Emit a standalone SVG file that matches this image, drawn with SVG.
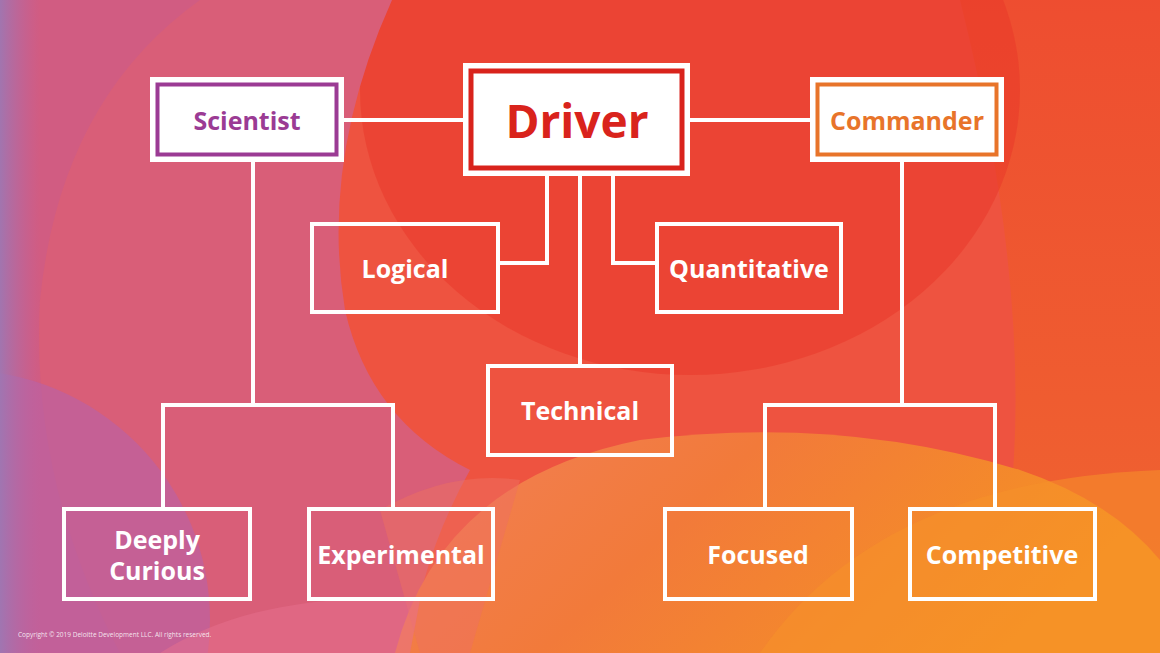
<svg xmlns="http://www.w3.org/2000/svg" width="1160" height="653" viewBox="0 0 1160 653">
<defs>
<linearGradient id="leftEdge" x1="0" y1="0" x2="1" y2="0">
<stop offset="0" stop-color="#9C78B4" stop-opacity="0.9"/>
<stop offset="1" stop-color="#B865A4" stop-opacity="0"/>
</linearGradient>
<linearGradient id="orangeB" x1="0" y1="0" x2="1" y2="0.3">
<stop offset="0" stop-color="#F28058"/>
<stop offset="0.45" stop-color="#F27A3A"/>
<stop offset="1" stop-color="#F59222"/>
</linearGradient>
<linearGradient id="rightSide" x1="0" y1="0" x2="0" y2="1">
<stop offset="0" stop-color="#EE4C2C"/>
<stop offset="1" stop-color="#F06A2C"/>
</linearGradient>
<style>
.box{fill:none;stroke:#FFFFFF;stroke-width:4}
.top{fill:#FFFFFF}
.conn{fill:none;stroke:#FFFFFF;stroke-width:4}
.lbl{font-family:"Open Sans","Liberation Sans",sans-serif;font-weight:700;font-size:25px;fill:#FFFFFF;text-anchor:middle}
.hd{font-family:"Open Sans","Liberation Sans",sans-serif;font-weight:700;text-anchor:middle}
</style>
</defs>
<g id="background">
<rect x="0" y="0" width="1160" height="653" fill="#EE5340"/>
<path d="M960 0 H1160 V653 H980 Q1060 400 960 0 Z" fill="url(#rightSide)" opacity="0.8"/>
<ellipse cx="690" cy="90" rx="330" ry="285" fill="#E9392A" opacity="0.55"/>
<path d="M0 0 H392 Q320 160 345 310 Q370 420 470 470 Q420 560 410 653 H0 Z" fill="#D95E78"/>
<path d="M0 0 H200 Q60 100 40 300 Q30 480 120 653 H0 Z" fill="#CC5C88" opacity="0.6"/>
<circle cx="-40" cy="620" r="250" fill="#B862A8" opacity="0.6"/>
<rect x="0" y="0" width="40" height="653" fill="url(#leftEdge)"/>
<path d="M395 653 Q440 480 640 440 Q840 415 1020 470 Q1110 500 1160 560 V653 Z" fill="url(#orangeB)"/>
<path d="M760 653 Q880 480 1160 470 V653 Z" fill="#F5922A" opacity="0.55"/>
<path d="M380 510 Q450 470 520 480 L470 653 H420 Z" fill="#EE7060" opacity="0.5"/>
<path d="M160 653 Q260 590 420 600 L410 653 Z" fill="#E8708E" opacity="0.5"/>
</g>
<g id="connectors">
<path class="conn" d="M344 120 H463"/>
<path class="conn" d="M690 120 H810"/>
<path class="conn" d="M253 162 V405"/>
<path class="conn" d="M163 509 V405 H393 V509"/>
<path class="conn" d="M547 176 V263 H499"/>
<path class="conn" d="M613 176 V263 H655"/>
<path class="conn" d="M580 176 V364"/>
<path class="conn" d="M902 162 V405"/>
<path class="conn" d="M765 509 V405 H995 V509"/>
</g>
<g id="scientist">
<rect class="top" x="150" y="77" width="194" height="85"/>
<rect x="157.5" y="84.5" width="179" height="70" fill="none" stroke="#9B3B94" stroke-width="4"/>
<text class="hd" x="247" y="130" font-size="25" fill="#9B3B94">Scientist</text>
</g>
<g id="driver">
<rect class="top" x="463" y="63" width="227" height="113"/>
<rect x="471" y="71" width="211" height="97" fill="none" stroke="#D9231C" stroke-width="5"/>
<text class="hd" x="577" y="138" font-size="46" fill="#D9231C">Driver</text>
</g>
<g id="commander">
<rect class="top" x="810" y="77" width="194" height="85"/>
<rect x="817.5" y="84.5" width="179" height="70" fill="none" stroke="#E8742A" stroke-width="4"/>
<text class="hd" x="907" y="130" font-size="25" fill="#E8742A">Commander</text>
</g>
<g id="logical">
<rect class="box" x="312" y="224" width="186" height="88"/>
<text class="lbl" x="405" y="278">Logical</text>
</g>
<g id="quantitative">
<rect class="box" x="657" y="224" width="184" height="88"/>
<text class="lbl" x="749" y="278">Quantitative</text>
</g>
<g id="technical">
<rect class="box" x="488" y="366" width="184" height="89"/>
<text class="lbl" x="580" y="420">Technical</text>
</g>
<g id="deeply-curious">
<rect class="box" x="64" y="509" width="186" height="90"/>
<text class="lbl" x="157" y="549">Deeply</text>
<text class="lbl" x="157" y="580">Curious</text>
</g>
<g id="experimental">
<rect class="box" x="309" y="509" width="184" height="90"/>
<text class="lbl" x="401" y="564">Experimental</text>
</g>
<g id="focused">
<rect class="box" x="665" y="509" width="187" height="90"/>
<text class="lbl" x="758" y="564">Focused</text>
</g>
<g id="competitive">
<rect class="box" x="910" y="509" width="185" height="90"/>
<text class="lbl" x="1002" y="564">Competitive</text>
</g>
<text x="18" y="637" font-family="'Open Sans','Liberation Sans',sans-serif" font-size="6.5" fill="#FFFFFF" fill-opacity="0.85">Copyright © 2019 Deloitte Development LLC. All rights reserved.</text>
</svg>
